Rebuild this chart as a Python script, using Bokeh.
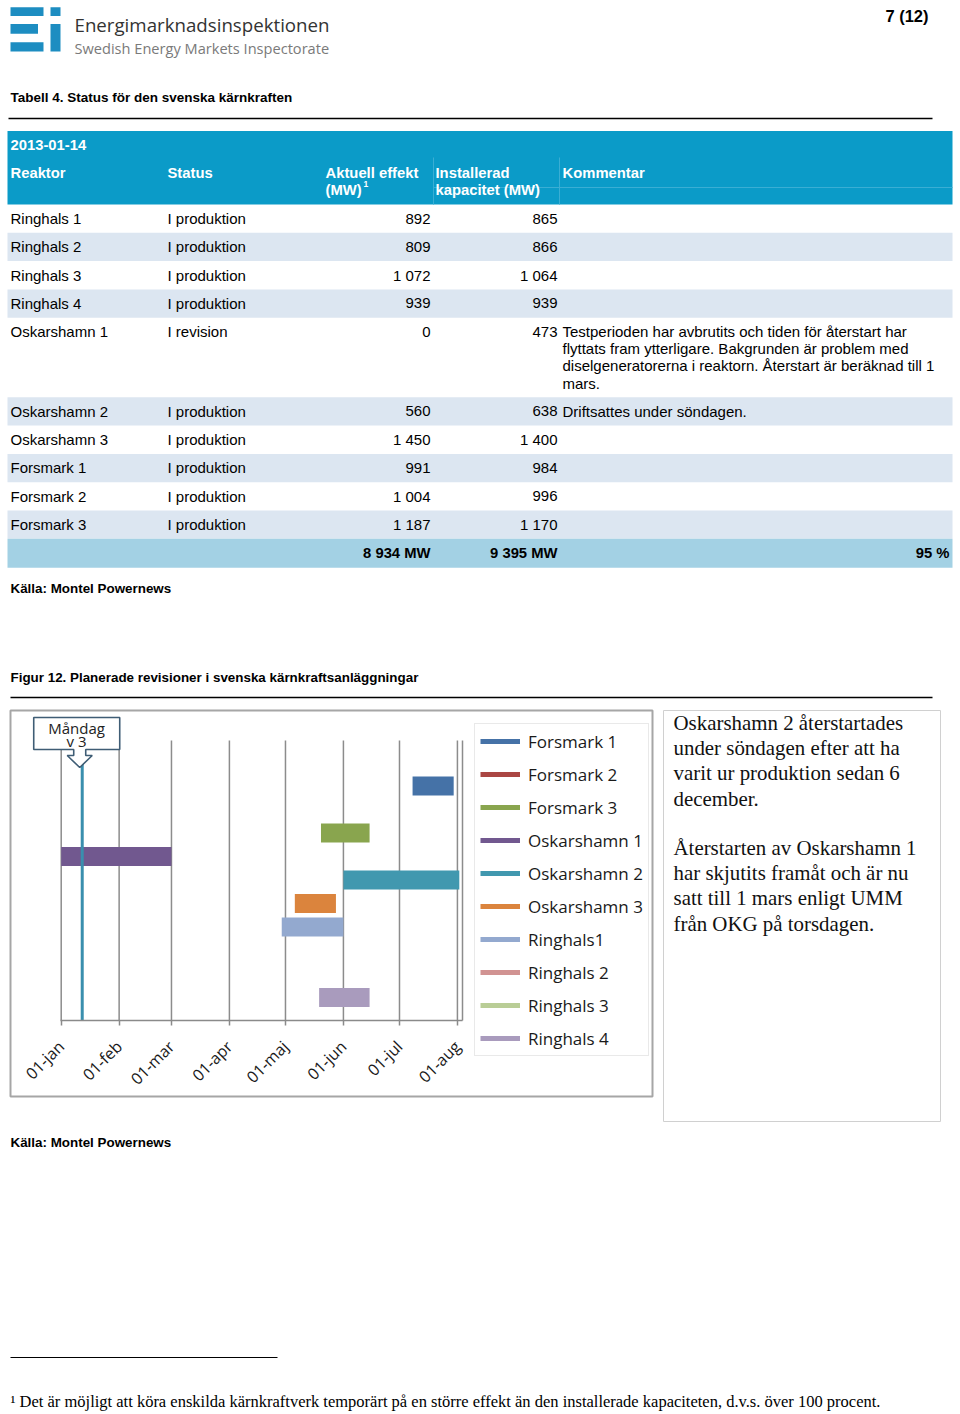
import math
from datetime import datetime, timedelta

from bokeh.plotting import figure
from bokeh.models import Range1d, Legend, LegendItem, FixedTicker, CustomJSTickFormatter
from bokeh.core.properties import value
from bokeh.embed import file_html
from bokeh.resources import INLINE

# ---------------------------------------------------------------- data
table_date = "2013-01-14"
reactors = ["Ringhals 1", "Ringhals 2", "Ringhals 3", "Ringhals 4", "Oskarshamn 1",
            "Oskarshamn 2", "Oskarshamn 3", "Forsmark 1", "Forsmark 2", "Forsmark 3"]
statuses = ["I produktion", "I produktion", "I produktion", "I produktion", "I revision",
            "I produktion", "I produktion", "I produktion", "I produktion", "I produktion"]
current_mw = ["892", "809", "1 072", "939", "0", "560", "1 450", "991", "1 004", "1 187"]
installed_mw = ["865", "866", "1 064", "939", "473", "638", "1 400", "984", "996", "1 170"]
comments = [[], [], [], [],
            ["Testperioden har avbrutits och tiden för återstart har",
             "flyttats fram ytterligare. Bakgrunden är problem med",
             "diselgeneratorerna i reaktorn. Återstart är beräknad till 1",
             "mars."],
            ["Driftsattes under söndagen."], [], [], [], []]
total_current = "8 934 MW"
total_installed = "9 395 MW"
total_share = "95 %"

units = ["Forsmark 1", "Forsmark 2", "Forsmark 3", "Oskarshamn 1", "Oskarshamn 2",
         "Oskarshamn 3", "Ringhals1", "Ringhals 2", "Ringhals 3", "Ringhals 4"]
unit_colors = ["#4572a7", "#aa4643", "#89a54e", "#71588f", "#4198af",
               "#db843d", "#93a9cf", "#d19392", "#b9cd96", "#a99bbd"]

rev_unit = ["Oskarshamn 1", "Ringhals1", "Oskarshamn 3", "Forsmark 3",
            "Ringhals 4", "Oskarshamn 2", "Forsmark 1"]
rev_start = ["2013-01-01", "2013-04-29", "2013-05-06", "2013-05-20",
             "2013-05-19", "2013-06-01", "2013-07-08"]
rev_end = ["2013-03-01", "2013-06-01", "2013-05-28", "2013-06-15",
           "2013-06-15", "2013-08-02", "2013-07-30"]

marker_date = "2013-01-12 06:00"
marker_text = ["Måndag", "v 3"]
month_ticks = ["2013-01-01", "2013-02-01", "2013-03-01", "2013-04-01",
               "2013-05-01", "2013-06-01", "2013-07-01", "2013-08-01"]
month_names = ["jan", "feb", "mar", "apr", "maj", "jun", "jul", "aug",
               "sep", "okt", "nov", "dec"]

note_para1 = ["Oskarshamn 2 återstartades", "under söndagen efter att ha",
              "varit ur produktion sedan 6", "december."]
note_para2 = ["Återstarten av Oskarshamn 1", "har skjutits framåt och är nu",
              "satt till 1 mars enligt UMM", "från OKG på torsdagen."]
footnote = ("¹ Det är möjligt att köra enskilda kärnkraftverk temporärt på en större effekt "
            "än den installerade kapaciteten, d.v.s. över 100 procent.")

# ---------------------------------------------------------------- page geometry
W, H = 960, 1414
SANS = "Liberation Sans"
SERIF = "Liberation Serif"
CAL = "Open Sans"


def to_dt(s):
    return datetime.fromisoformat(s)


# gantt scales: 01-jan sits at page x 60.7, 1.869 px per day; row 0 at page y 785.5, 23.5 px per row
jan1 = to_dt("2013-01-01")
px_day = 1.869
x_start = jan1 - timedelta(days=60.7 / px_day)
x_end = x_start + timedelta(days=W / px_day)
row0, row_px = 785.5, 23.5
y_top = (0 - row0) / row_px
y_bot = (H - row0) / row_px
plot_x0 = jan1 - timedelta(hours=4)
plot_x1 = jan1 + timedelta(days=(462 - 60.7) / px_day)
plot_y0, plot_y1 = -1.94, 9.98

p = figure(width=W, height=H, x_axis_type="datetime",
           x_range=Range1d(x_start, x_end), y_range=Range1d(y_bot, y_top),
           output_backend="svg", toolbar_location=None, y_axis_location=None,
           min_border=0)
p.extra_x_ranges = {"page": Range1d(0, W)}
p.extra_y_ranges = {"page": Range1d(H, 0)}
p.outline_line_color = None
p.grid.visible = False
p.background_fill_color = "white"
p.border_fill_color = "white"

PG = dict(x_range_name="page", y_range_name="page")


def txt(xs, ys, texts, size, font=SANS, style="normal", color="#000000",
        align="left", baseline="middle"):
    p.text(x=xs, y=ys, text=texts, text_font=value(font), text_font_size=f"{size}px",
           text_font_style=style, text_color=color, text_align=align,
           text_baseline=baseline, **PG)


def hline(x0, x1, y, color="#000000", width=1.0):
    p.segment(x0=[x0], y0=[y], x1=[x1], y1=[y], line_color=color, line_width=width, **PG)


# ---------------------------------------------------------------- header / logo
p.quad(left=[10, 50, 10, 10, 50], right=[43, 60, 37.5, 43, 60],
       top=[6.8, 6.8, 23.5, 41.8, 23.5], bottom=[15.6, 15.6, 33.2, 51, 51],
       fill_color="#1d8dc1", line_color=None, **PG)
txt([74], [24], ["Energimarknadsinspektionen"], 18.7, font=CAL, color="#333333")
txt([74], [47.3], ["Swedish Energy Markets Inspectorate"], 14.6, font=CAL, color="#7a7a7a")
txt([928], [15.5], ["7 (12)"], 16.5, style="bold", align="right")

txt([10], [96.5], ["Tabell 4. Status för den svenska kärnkraften"], 13.5, style="bold")
hline(8, 932, 118, width=1.3)

# ---------------------------------------------------------------- table
HEAD = "#0b9bc8"
p.quad(left=[7], right=[952], top=[130.5], bottom=[204], fill_color=HEAD, line_color=None, **PG)
p.segment(x0=[433, 559, 433], y0=[157, 157, 187], x1=[433, 559, 952], y1=[204, 204, 187],
          line_color="#3aaed4", line_width=1, **PG)
txt([10], [144], [table_date], 14.8, style="bold", color="white")
txt([10, 167, 325, 435, 562], [172.5] * 5,
    ["Reaktor", "Status", "Aktuell effekt", "Installerad", "Kommentar"],
    14.8, style="bold", color="white")
txt([325, 435], [189.5, 189.5], ["(MW)", "kapacitet (MW)"], 14.8, style="bold", color="white")
txt([363], [183], ["1"], 8.5, style="bold", color="white")

row_h = 28.3
line_h = 17.1
y = 204.0
row_tops, row_bots, row_mid = [], [], []
for i in range(len(reactors)):
    n = max(1, len(comments[i]))
    h = row_h + (n - 1) * line_h
    row_tops.append(y)
    row_bots.append(y + h)
    row_mid.append(y + 14.0)
    y += h
shade = [i for i in range(len(reactors)) if i % 2 == 1]
p.quad(left=[7] * len(shade), right=[952] * len(shade),
       top=[row_tops[i] for i in shade], bottom=[row_bots[i] for i in shade],
       fill_color="#dce6f1", line_color=None, **PG)
txt([10] * len(reactors), row_mid, reactors, 15)
txt([167] * len(reactors), row_mid, statuses, 15)
txt([430] * len(reactors), row_mid, current_mw, 15, align="right")
txt([557] * len(reactors), row_mid, installed_mw, 15, align="right")
cx, cy, ct = [], [], []
for i, lines in enumerate(comments):
    for k, s in enumerate(lines):
        cx.append(562)
        cy.append(row_mid[i] + k * line_h)
        ct.append(s)
txt(cx, cy, ct, 15)

tot_top = row_bots[-1]
p.quad(left=[7], right=[952], top=[tot_top], bottom=[tot_top + 29],
       fill_color="#a3d1e4", line_color=None, **PG)
txt([430, 557, 949], [tot_top + 14.5] * 3,
    [total_current, total_installed, total_share], 14.8, style="bold", align="right")

txt([10], [587.5], ["Källa: Montel Powernews"], 13.4, style="bold")
txt([10], [676.5], ["Figur 12. Planerade revisioner i svenska kärnkraftsanläggningar"],
    13.4, style="bold")
hline(10, 932, 697, width=1.5)

# ---------------------------------------------------------------- gantt chart
# outer border of the chart object
p.quad(left=[10], right=[652], top=[710], bottom=[1096], fill_color=None,
       line_color="#a6a6a6", line_width=2, **PG)

tick_dt = [to_dt(d) for d in month_ticks]
p.segment(x0=tick_dt + [plot_x1], x1=tick_dt + [plot_x1],
          y0=[plot_y0] * (len(tick_dt) + 1), y1=[plot_y1] * (len(tick_dt) + 1),
          line_color="#8c8c8c", line_width=1.5)

items = []
for idx, (name, col) in enumerate(zip(units, unit_colors)):
    sel = [k for k, u in enumerate(rev_unit) if u == name]
    p.hbar(y=[idx] * len(sel), left=[to_dt(rev_start[k]) for k in sel],
           right=[to_dt(rev_end[k]) for k in sel], height=0.8,
           fill_color=col, line_color=None)
    # legend key: a line renderer with one undrawn point
    key = p.line(x=[jan1], y=[float("nan")], line_color=col, line_width=5)
    items.append(LegendItem(label=name, renderers=[key]))

mdt = to_dt(marker_date)
p.segment(x0=[mdt], x1=[mdt], y0=[plot_y0], y1=[plot_y1], line_color="#3a8fae", line_width=3)

# "Måndag v 3" callout, anchored on the marker line
m = W * (mdt - x_start).total_seconds() / (x_end - x_start).total_seconds()
c = m - 2.5
call_x = [m - 48.5, m + 37.5, m + 37.5, c + 6, c + 6, c + 12.5, c, c - 12.5, c - 6, c - 6, m - 48.5]
call_y = [717, 717, 749, 749, 755, 755, 767, 755, 755, 749, 749]
p.patch(x=call_x, y=call_y, fill_color="white", line_color="#3f5d75", line_width=1.6, **PG)
txt([m - 5.7, m - 5.7], [727.5, 740.3], marker_text, 15, font=CAL, color="#222222",
    align="center")

# x axis (real axis, drawn at the bottom of the plot area)
tick_ms = [d.timestamp() * 1000.0 for d in tick_dt]
ax = p.xaxis[0]
ax.fixed_location = plot_y1
ax.bounds = (plot_x0, plot_x1)
ax.ticker = FixedTicker(ticks=tick_ms, minor_ticks=[])
ax.formatter = CustomJSTickFormatter(
    args=dict(names=month_names),
    code="const d = new Date(tick); return String(d.getUTCDate()).padStart(2,'0') + '-' + names[d.getUTCMonth()];")
ax.major_label_orientation = math.pi / 4
ax.major_label_text_font = CAL
ax.major_label_text_font_size = "16px"
ax.major_label_text_color = "#1a1a1a"
ax.major_label_standoff = 18
ax.axis_line_color = "#8a8a8a"
ax.axis_line_width = 1.5
ax.major_tick_line_color = "#8a8a8a"
ax.major_tick_line_width = 1.5
ax.major_tick_in = 0
ax.major_tick_out = 5

legend = Legend(items=items, location=(474, H - 1056),
                label_text_font=CAL, label_text_font_size="17px",
                label_text_color="#1a1a1a", glyph_width=40, glyph_height=24,
                label_height=24, label_standoff=8, spacing=9, padding=5, margin=0,
                border_line_color="#d4d4d4", border_line_width=1,
                background_fill_color="white", background_fill_alpha=1.0)
p.add_layout(legend)

# ---------------------------------------------------------------- comment box
p.quad(left=[663], right=[940], top=[710], bottom=[1121], fill_color=None,
       line_color="#d0d0d0", line_width=1, **PG)
lh = 25.2
txt([673] * 4, [722.5 + k * lh for k in range(4)], note_para1, 20.9, font=SERIF,
    color="#111111")
txt([673] * 4, [847.5 + k * lh for k in range(4)], note_para2, 20.9, font=SERIF,
    color="#111111")

# ---------------------------------------------------------------- bottom of page
txt([10], [1141.5], ["Källa: Montel Powernews"], 13.4, style="bold")
hline(10, 277, 1357, width=1)
txt([10], [1401], [footnote], 16.5, font=SERIF)

open("out.html", "w").write(file_html(p, INLINE))
